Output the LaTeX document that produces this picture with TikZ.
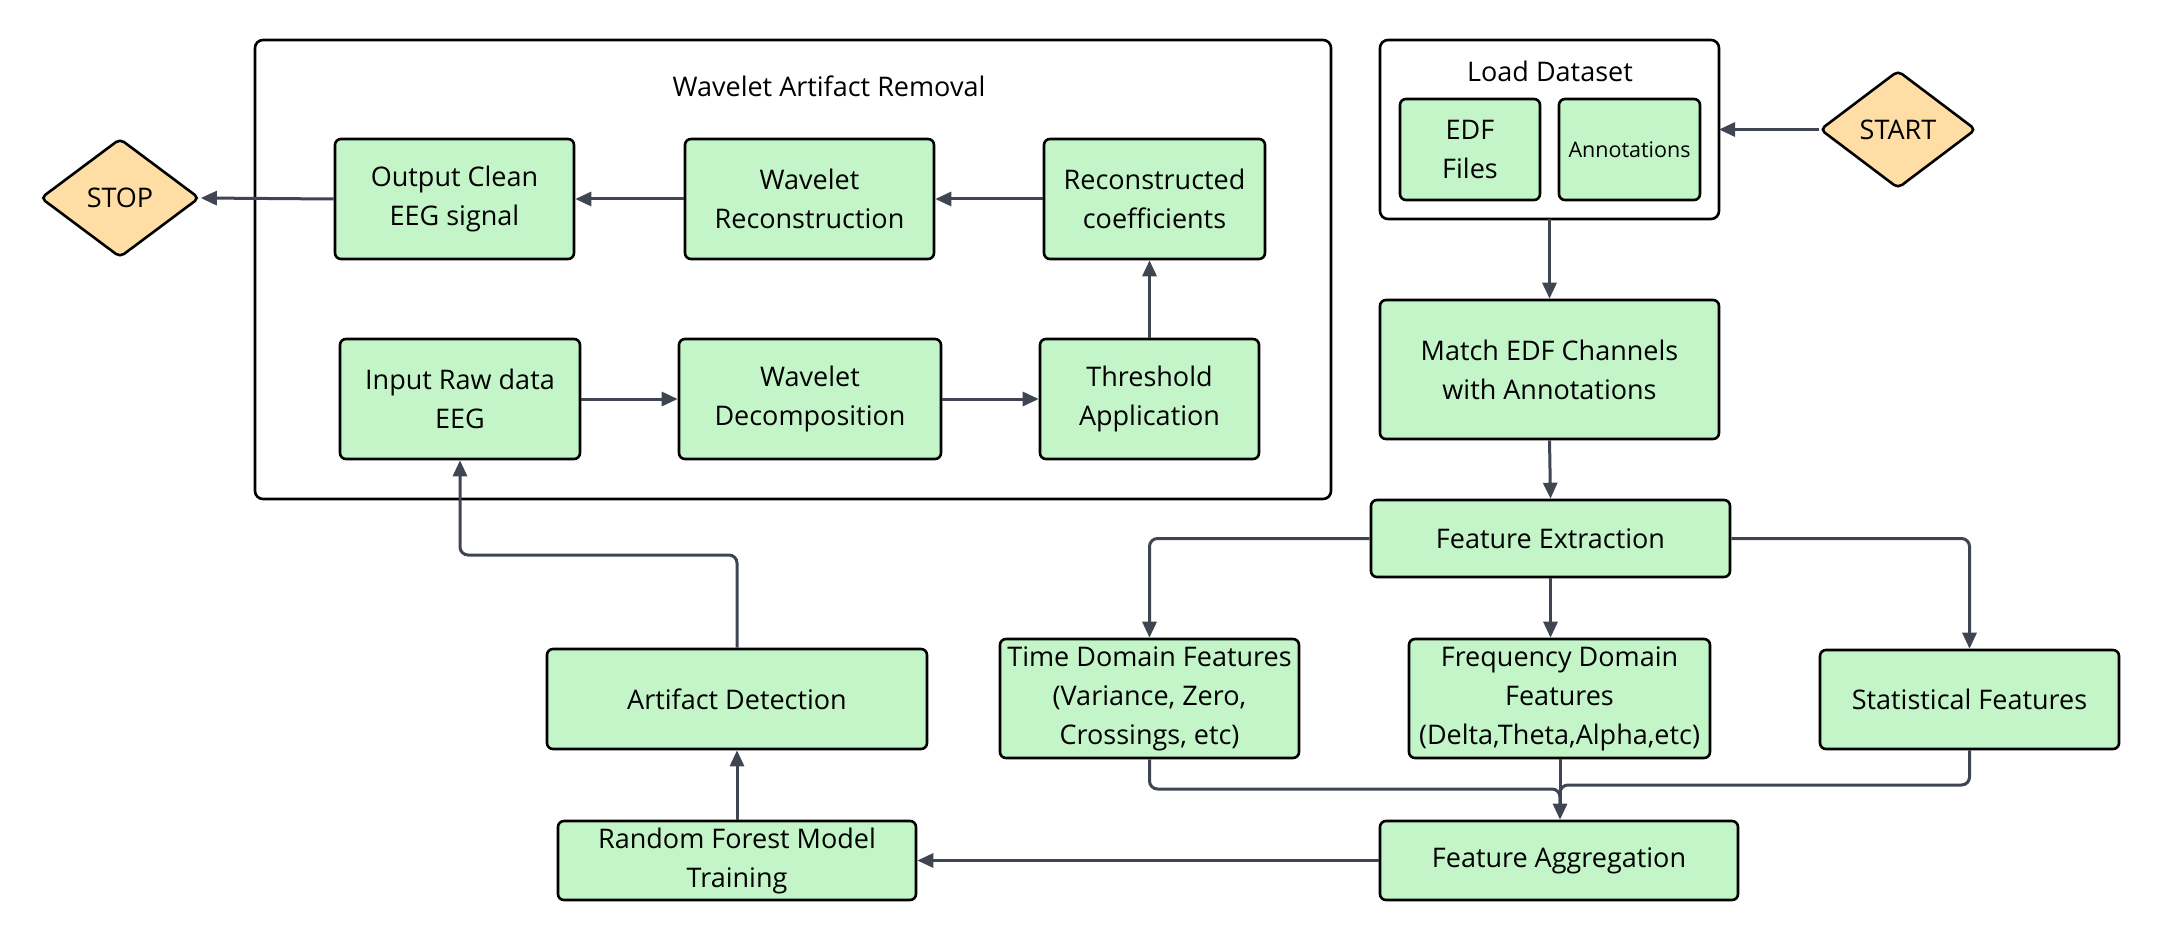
\documentclass[tikz,border=0pt]{standalone}
\usepackage{fontspec}
\setmainfont{Open Sans}
\usetikzlibrary{arrows.meta,shapes.geometric}
\definecolor{boxgreen}{HTML}{C3F5C8}
\definecolor{peach}{HTML}{FFDEA6}
\definecolor{linegray}{HTML}{3F4551}
\tikzset{
  box/.style={draw=black, line width=2.6pt, fill=boxgreen, rounded corners=6pt, align=center,
    inner sep=0pt, font=\fontsize{27}{39}\selectfont},
  frame/.style={draw=black, line width=2.6pt, fill=white, rounded corners=8pt},
  term/.style={diamond, aspect=1.33, draw=black, line width=2.6pt, fill=peach, rounded corners=5pt,
    inner sep=0pt, font=\fontsize{27}{39}\selectfont},
  line/.style={draw=linegray, line width=3pt, rounded corners=8pt},
  conn/.style={line, -{Triangle[length=16pt,width=14pt]}},
  ttl/.style={font=\fontsize{27}{32}\selectfont, inner sep=0pt}
}
\begin{document}
\begin{tikzpicture}[x=1pt,y=-1pt]
\useasboundingbox (0,0) rectangle (2160,941);
% frames
\draw[frame] (255,40) rectangle (1331,499);
\node[ttl] (wtitle) at (829,86) {Wavelet Artifact Removal};
\draw[frame] (1380,40) rectangle (1719,219);
\coordinate (loadS) at (1549.5,219);
\coordinate (loadE) at (1719,129.5);
\node[ttl] (ltitle) at (1550,71) {Load Dataset};
% nodes
\node[term, minimum width=159pt, minimum height=119pt] (stop) at (120,198) {STOP};
\node[term, minimum width=156pt, minimum height=118pt] (start) at (1898,129.5) {START};
\node[box, minimum width=239pt, minimum height=120pt] (outc) at (454.5,199) {Output Clean\\EEG signal};
\node[box, minimum width=249pt, minimum height=120pt] (wrec) at (809.5,199) {Wavelet\\Reconstruction};
\node[box, minimum width=221pt, minimum height=120pt] (rcoef) at (1154.5,199) {Reconstructed\\coefficients};
\node[box, minimum width=240pt, minimum height=120pt] (inraw) at (460,399) {Input Raw data\\EEG};
\node[box, minimum width=262pt, minimum height=120pt] (wdec) at (810,399) {Wavelet\\Decomposition};
\node[box, minimum width=219pt, minimum height=120pt] (thr) at (1149.5,399) {Threshold\\Application};
\node[box, minimum width=140pt, minimum height=101pt] (edf) at (1470,149.5) {EDF\\Files};
\node[box, minimum width=141pt, minimum height=101pt, font=\fontsize{21.5}{30}\selectfont] (ann) at (1629.5,149.5) {Annotations};
\node[box, minimum width=339pt, minimum height=139pt] (match) at (1549.5,369.5) {Match EDF Channels\\with Annotations};
\node[box, minimum width=359pt, minimum height=77pt] (fe) at (1550.5,538.5) {Feature Extraction};
\node[box, minimum width=299pt, minimum height=119pt] (td) at (1149.5,698.5) {Time Domain Features\\(Variance, Zero,\\Crossings, etc)};
\node[box, minimum width=301pt, minimum height=119pt] (fd) at (1559.5,698.5) {Frequency Domain\\Features\\(Delta,Theta,Alpha,etc)};
\node[box, minimum width=299pt, minimum height=99pt] (sf) at (1969.5,699.5) {Statistical Features};
\node[box, minimum width=358pt, minimum height=79pt] (fa) at (1559,860.5) {Feature Aggregation};
\node[box, minimum width=358pt, minimum height=79pt] (rf) at (737,860.5) {Random Forest Model\\Training};
\node[box, minimum width=380pt, minimum height=100pt] (ad) at (737,699) {Artifact Detection};
% helper coordinates
\coordinate (mj) at (1560,808);
\coordinate (yT) at (0,789);
\coordinate (yS) at (0,785);
\coordinate (yA) at (0,555);
% connectors
\draw[conn] (start.west) -- (loadE);
\draw[conn] (loadS) -- (match.north);
\draw[conn] (match.south) -- (fe.north);
\draw[conn] (fe.west) -| (td.north);
\draw[conn] (fe.south) -- (fe.south |- fd.north);
\draw[conn] (fe.east) -| (sf.north);
\draw[line] (td.south) |- (yT -| mj) -- (mj);
\draw[line] (sf.south) |- (yS -| mj) -- (mj);
\draw[conn] (fd.south -| mj) -- (mj |- fa.north);
\draw[conn] (fa.west) -- (rf.east);
\draw[conn] (rf.north) -- (ad.south);
\draw[conn] (ad.north) |- (yA -| inraw.south) -- (inraw.south);
\draw[conn] (inraw.east) -- (wdec.west);
\draw[conn] (wdec.east) -- (thr.west);
\draw[conn] (thr.north) -- (thr.north |- rcoef.south);
\draw[conn] (rcoef.west) -- (wrec.east);
\draw[conn] (wrec.west) -- (outc.east);
\draw[conn] (outc.west) -- (stop.east);
\end{tikzpicture}
\end{document}
